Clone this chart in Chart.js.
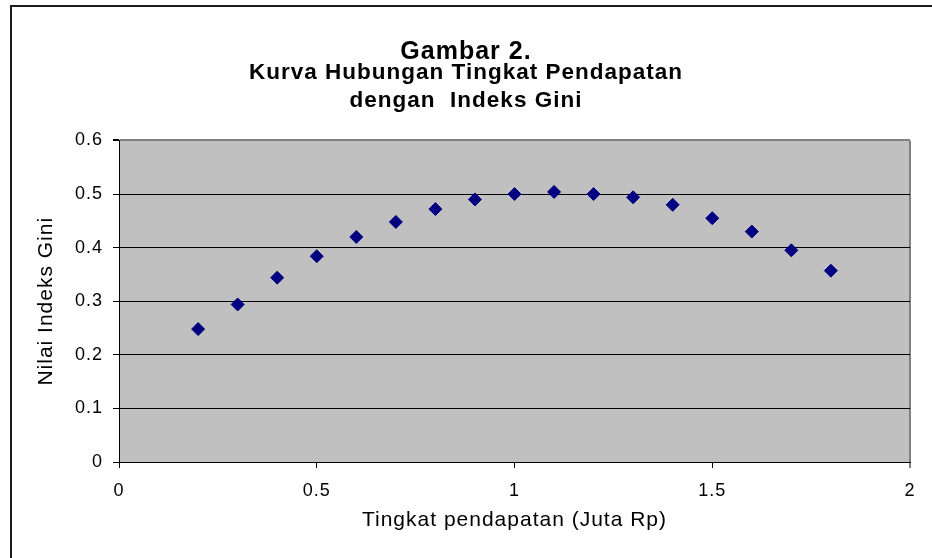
<!DOCTYPE html>
<html>
<head>
<meta charset="utf-8">
<script src="https://cdn.jsdelivr.net/npm/chart.js@4/dist/chart.umd.min.js"></script>
<style>
  html, body { margin: 0; padding: 0; background: #ffffff; }
  #wrap { width: 932px; height: 558px; }
</style>
</head>
<body>
<div id="wrap"><canvas id="c" width="932" height="558"></canvas></div>
<script>
// ---- data ----
const incomeLevels = [0.2, 0.3, 0.4, 0.5, 0.6, 0.7, 0.8, 0.9, 1.0, 1.1, 1.2, 1.3, 1.4, 1.5, 1.6, 1.7, 1.8];
const giniValues   = [0.248, 0.294, 0.344, 0.384, 0.420, 0.448, 0.472, 0.490, 0.500, 0.504, 0.500, 0.494, 0.480, 0.455, 0.430, 0.395, 0.357];
const xTickLabels  = ['0', '0.5', '1', '1.5', '2'];
const yTickLabels  = ['0', '0.1', '0.2', '0.3', '0.4', '0.5', '0.6'];
const titleMain    = 'Gambar 2.';
const titleLines   = ['Kurva Hubungan Tingkat Pendapatan', 'dengan  Indeks Gini'];
const xAxisTitle   = 'Tingkat pendapatan (Juta Rp)';
const yAxisTitle   = 'Nilai Indeks Gini';

const FONT = "'Liberation Sans', Arial, sans-serif";

const points = incomeLevels.map((x, i) => ({ x: x, y: giniValues[i] }));

const bgPlugin = {
  id: 'bgPlugin',
  beforeDraw(chart) {
    const { ctx, chartArea: a } = chart;
    ctx.save();
    ctx.fillStyle = '#ffffff';
    ctx.fillRect(0, 0, chart.width, chart.height);
    ctx.strokeStyle = '#1a1a1a';
    ctx.lineWidth = 2;
    ctx.strokeRect(11, 6, 940, 570);
    ctx.fillStyle = '#C0C0C0';
    ctx.fillRect(a.left, a.top, a.right - a.left, a.bottom - a.top);
    ctx.restore();
    ctx.letterSpacing = '1px';
  },
  afterDraw(chart) {
    chart.ctx.letterSpacing = '0px';
  }
};

function labelFor(list, v) {
  const idx = list.findIndex(s => Math.abs(parseFloat(s) - v) < 1e-6);
  return idx >= 0 ? list[idx] : '';
}

new Chart(document.getElementById('c'), {
  type: 'scatter',
  data: {
    datasets: [{
      data: points,
      pointStyle: 'rectRot',
      pointRadius: 6.5,
      backgroundColor: '#000080',
      borderColor: '#000080',
      borderWidth: 1,
      showLine: false
    }]
  },
  options: {
    responsive: false,
    animation: false,
    devicePixelRatio: 1,
    layout: { padding: { left: 22, right: 22, top: 0, bottom: 0 } },
    plugins: {
      legend: { display: false },
      tooltip: { enabled: false },
      title: {
        display: true,
        text: titleMain,
        color: '#000',
        font: { family: FONT, size: 25, weight: 'bold', lineHeight: 0.5 },
        padding: { top: 46, bottom: 0 }
      },
      subtitle: {
        display: true,
        text: titleLines,
        color: '#000',
        font: { family: FONT, size: 22.5, weight: 'bold', lineHeight: 1.222 },
        padding: { top: 1, bottom: 26 }
      }
    },
    scales: {
      x: {
        type: 'linear',
        min: 0, max: 2,
        afterFit(s) { s.height = 96; },
        ticks: {
          stepSize: 0.5,
          color: '#000',
          padding: 12,
          font: { family: FONT, size: 18 },
          callback: v => labelFor(xTickLabels, v)
        },
        grid: {
          drawOnChartArea: true,
          color: c => (c.tick && c.tick.value === 2) ? '#808080' : 'rgba(0,0,0,0)',
          lineWidth: c => (c.tick && c.tick.value === 2) ? 2 : 1,
          tickColor: c => (c.tick && c.tick.value === 2) ? '#808080' : '#000',
          tickLength: 6
        },
        border: { display: true, color: '#000', width: 1 },
        title: {
          display: true,
          text: xAxisTitle,
          color: '#000',
          font: { family: FONT, size: 21 },
          padding: { top: 0, bottom: 25 }
        }
      },
      y: {
        type: 'linear',
        min: 0, max: 0.6,
        afterFit(s) { s.width = 97; },
        ticks: {
          stepSize: 0.1,
          color: '#000',
          padding: 10,
          font: { family: FONT, size: 18 },
          callback: v => labelFor(yTickLabels, v)
        },
        grid: {
          color: c => (c.tick && Math.abs(c.tick.value - 0.6) < 1e-6) ? '#808080' : '#000',
          lineWidth: c => (c.tick && Math.abs(c.tick.value - 0.6) < 1e-6) ? 2 : 1,
          tickColor: '#000',
          tickLength: 6
        },
        border: { display: true, color: '#000', width: 1 },
        title: {
          display: true,
          text: yAxisTitle,
          color: '#000',
          font: { family: FONT, size: 21 },
          padding: { top: 12, bottom: 0 }
        }
      }
    }
  },
  plugins: [bgPlugin]
});
</script>
</body>
</html>
